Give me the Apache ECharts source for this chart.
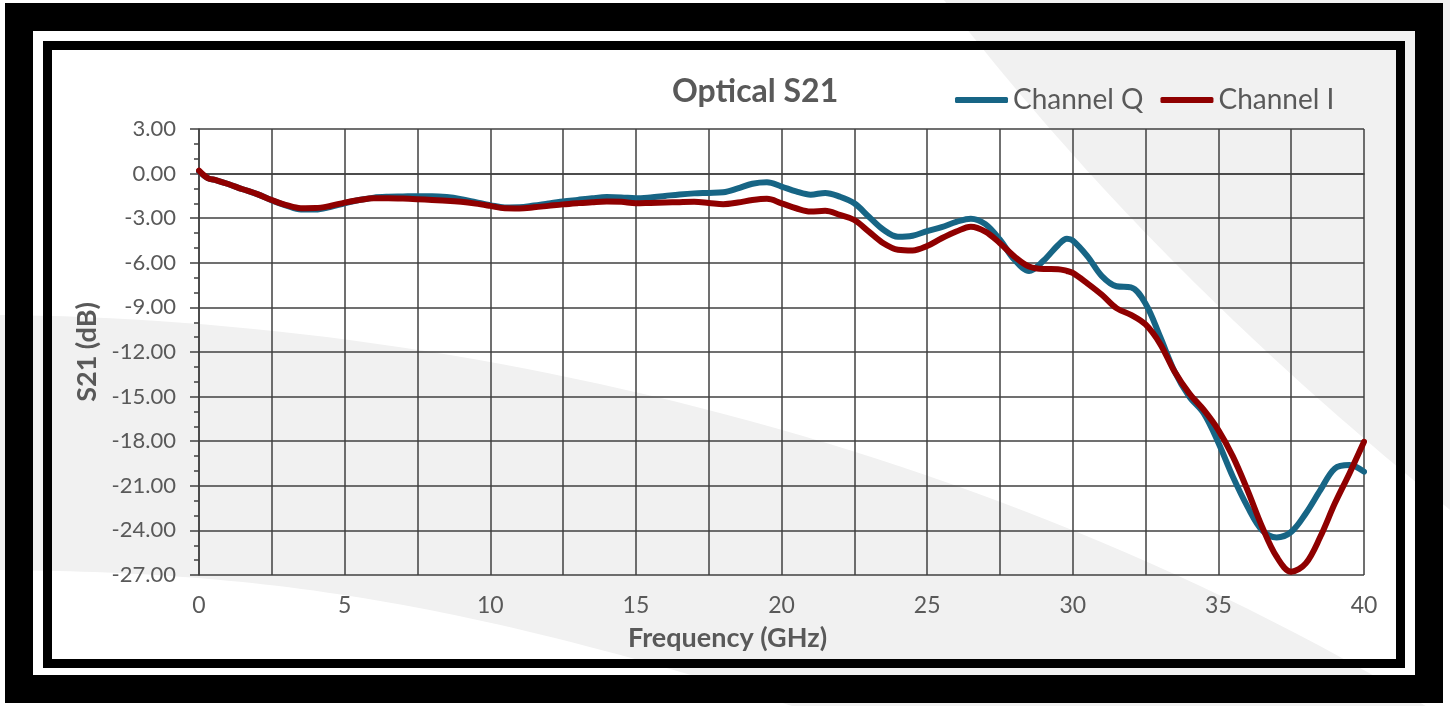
<!DOCTYPE html>
<html>
<head>
<meta charset="utf-8">
<script src="https://cdn.jsdelivr.net/npm/echarts@6/dist/echarts.min.js"></script>
<style>
html,body{margin:0;padding:0;background:#fff;}
#c{width:1450px;height:706px;}
</style>
</head>
<body>
<div id="c"></div>
<script>
// Frequency points (GHz)
const freq = [0,0.3,0.6,1,1.5,2,2.5,3,3.5,4,4.5,5,5.5,6,6.5,7,7.5,8,8.5,9,9.5,10,10.5,11,11.5,12,12.5,13,13.5,14,14.5,15,15.5,16,16.5,17,17.5,18,18.5,19,19.5,20,20.5,21,21.5,22,22.5,23,23.5,24,24.5,25,25.5,26,26.5,27,27.5,28,28.5,29,29.5,29.8,30,30.5,31,31.5,32,32.5,33,33.5,34,34.5,35,35.5,36,36.5,37,37.5,38,38.5,39,39.5,40];
// Channel Q S21 (dB)
const chQ = [0.15,-0.3,-0.45,-0.7,-1.05,-1.38,-1.8,-2.15,-2.42,-2.42,-2.25,-2.0,-1.78,-1.62,-1.56,-1.54,-1.52,-1.52,-1.58,-1.72,-1.92,-2.12,-2.28,-2.27,-2.15,-2.01,-1.88,-1.77,-1.66,-1.58,-1.6,-1.66,-1.6,-1.5,-1.4,-1.33,-1.3,-1.26,-1.0,-0.68,-0.58,-0.87,-1.2,-1.42,-1.3,-1.55,-2.0,-2.9,-3.78,-4.25,-4.18,-3.87,-3.6,-3.25,-3.03,-3.4,-4.45,-5.8,-6.55,-5.85,-4.8,-4.38,-4.5,-5.55,-6.9,-7.58,-7.65,-8.75,-10.97,-13.33,-15.0,-16.13,-18.1,-20.4,-22.4,-23.98,-24.47,-24.1,-22.86,-21.29,-19.83,-19.6,-20.05];
// Channel I S21 (dB)
const chI = [0.2,-0.3,-0.45,-0.7,-1.05,-1.38,-1.78,-2.12,-2.33,-2.32,-2.18,-1.95,-1.78,-1.66,-1.66,-1.68,-1.72,-1.77,-1.82,-1.9,-2.02,-2.17,-2.33,-2.34,-2.27,-2.17,-2.07,-1.99,-1.92,-1.87,-1.9,-1.99,-1.97,-1.95,-1.92,-1.9,-1.97,-2.06,-1.95,-1.78,-1.7,-2.0,-2.33,-2.55,-2.5,-2.78,-3.12,-3.9,-4.68,-5.12,-5.17,-4.87,-4.35,-3.9,-3.57,-3.9,-4.68,-5.58,-6.25,-6.42,-6.43,-6.55,-6.68,-7.38,-8.15,-9.05,-9.5,-10.15,-11.45,-13.33,-14.78,-15.9,-17.25,-19.04,-21.29,-23.75,-25.77,-26.78,-26.22,-24.43,-22.18,-20.17,-18.04];
// Axis tick settings
const yTicks = {min: -27, max: 3, interval: 3};
const xTicks = {min: 0, max: 40, interval: 2.5, labelEvery: 5};

const FONT = 'Lato';
const TXT = '#595959';
const GRIDC = '#404040';

// decorative background curves (cubic bezier sampled into polygon points)
function bez(p0, p1, p2, p3, n) {
  const pts = [];
  for (let k = 0; k <= n; k++) {
    const t = k / n, u = 1 - t;
    pts.push([
      u*u*u*p0[0] + 3*u*u*t*p1[0] + 3*u*t*t*p2[0] + t*t*t*p3[0],
      u*u*u*p0[1] + 3*u*u*t*p1[1] + 3*u*t*t*p2[1] + t*t*t*p3[1]
    ]);
  }
  return pts;
}
const lowerTop = bez([-5,315],[450,318],[1000,440],[1460,727],60);
const lowerBot = bez([820,715],[450,595],[250,572],[-5,570],60);
const lowerBand = lowerTop.concat([[1460,745],[820,745]], lowerBot);
const upperShape = bez([940,-5],[1045,130],[1200,310],[1460,518],60).concat([[1460,-5]]);

const chart = echarts.init(document.getElementById('c'), null, {renderer: 'canvas'});
chart.setOption({
  backgroundColor: '#ffffff',
  animation: false,
  graphic: [
    {type: 'polygon', z: -20, silent: true, shape: {points: lowerBand}, style: {fill: '#f1f1f1'}},
    {type: 'polygon', z: -20, silent: true, shape: {points: upperShape}, style: {fill: '#f1f1f1'}},
    {type: 'rect', z: -10, silent: true,
     shape: {x: 19, y: 17, width: 1410, height: 672},
     style: {fill: 'transparent', stroke: '#000', lineWidth: 28}},
    {type: 'rect', z: -10, silent: true,
     shape: {x: 47.5, y: 45.5, width: 1353, height: 618},
     style: {fill: 'transparent', stroke: '#000', lineWidth: 9}}
  ],
  title: {
    text: 'Optical S21',
    left: 672, top: 76, padding: 0,
    textStyle: {fontFamily: FONT, fontSize: 32, fontWeight: 'bold', color: TXT}
  },
  legend: {
    data: ['Channel Q', 'Channel I'],
    left: 955, top: 86, padding: 0,
    icon: 'roundRect', itemWidth: 53, itemHeight: 6, itemGap: 17,
    textStyle: {fontFamily: FONT, fontSize: 28, color: TXT}
  },
  grid: {left: 199, top: 129, width: 1165, height: 446},
  xAxis: {
    type: 'value', min: xTicks.min, max: xTicks.max, interval: xTicks.interval,
    name: 'Frequency (GHz)', nameLocation: 'middle', nameGap: 50,
    nameTextStyle: {fontFamily: FONT, fontSize: 27, fontWeight: 'bold', color: TXT, padding: [0, 108, 0, 0]},
    axisLine: {show: true, lineStyle: {color: GRIDC, width: 1.5}},
    axisTick: {show: false},
    axisLabel: {
      fontFamily: FONT, fontSize: 23, color: TXT, margin: 19,
      formatter: v => (Math.abs(v % xTicks.labelEvery) < 1e-9 ? String(v) : '')
    },
    splitLine: {show: true, lineStyle: {color: GRIDC, width: 1.5}}
  },
  yAxis: {
    type: 'value', min: yTicks.min, max: yTicks.max, interval: yTicks.interval,
    name: 'S21 (dB)', nameLocation: 'middle', nameGap: 97, nameRotate: 90,
    nameTextStyle: {fontFamily: FONT, fontSize: 27, fontWeight: 'bold', color: TXT},
    axisLine: {show: true, lineStyle: {color: GRIDC, width: 1.5}},
    axisTick: {show: true, length: 9, lineStyle: {color: GRIDC, width: 1.5}},
    minorTick: {show: true, splitNumber: 3, length: 5, lineStyle: {color: GRIDC, width: 1.5}},
    axisLabel: {
      fontFamily: FONT, fontSize: 22, color: TXT, margin: 23,
      formatter: v => v.toFixed(2)
    },
    splitLine: {show: true, lineStyle: {color: GRIDC, width: 1.5}}
  },
  series: [
    {name: 'Channel Q', type: 'line', smooth: 0.35, symbol: 'none',
     itemStyle: {color: '#176585'},
     lineStyle: {color: '#176585', width: 6, cap: 'round', join: 'round'},
     data: freq.map((f, i) => [f, chQ[i]]), z: 3},
    {name: 'Channel I', type: 'line', smooth: 0.35, symbol: 'none',
     itemStyle: {color: '#8f0000'},
     lineStyle: {color: '#8f0000', width: 6, cap: 'round', join: 'round'},
     data: freq.map((f, i) => [f, chI[i]]), z: 4}
  ]
});
</script>
</body>
</html>
